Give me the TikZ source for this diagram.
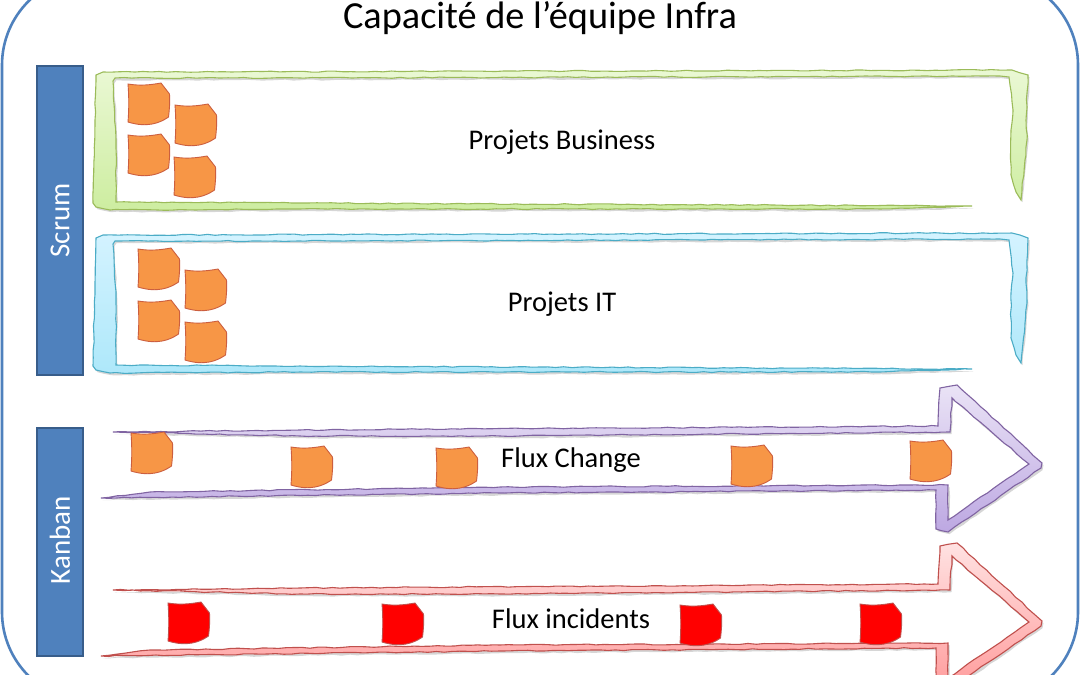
\documentclass[tikz,border=0pt]{standalone}
\usepackage{fontspec}
\setmainfont{Carlito}
\usetikzlibrary{decorations.pathmorphing}
\definecolor{bluemain}{HTML}{4F81BD}
\definecolor{blueedge}{HTML}{385D8A}
\definecolor{grn}{HTML}{9BBB59}
\definecolor{cyn}{HTML}{4BACC6}
\definecolor{pur}{HTML}{8064A2}
\definecolor{rd}{HTML}{C0504D}
\definecolor{grntop}{HTML}{EAF8D4}
\definecolor{grnbot}{HTML}{CDEDA0}
\definecolor{cyntop}{HTML}{D4F3FF}
\definecolor{cynbot}{HTML}{AEE8FA}
\definecolor{purtop}{HTML}{EAE3F6}
\definecolor{purbot}{HTML}{BDA8E2}
\definecolor{rdtop}{HTML}{FFE2E2}
\definecolor{rdbot}{HTML}{FF9C9C}
\definecolor{notefill}{HTML}{F79646}
\definecolor{noteedge}{HTML}{CC5F3F}
\tikzset{
  capacity/.style={draw=bluemain,line width=2.6pt,rounded corners=90pt},
  sidebar/.style={draw=blueedge,line width=2.2pt,fill=bluemain},
  sidetext/.style={text=white,rotate=90,font=\fontsize{29}{34}\selectfont},
  lbl/.style={font=\fontsize{28.5}{34}\selectfont,text=black},
  titlelbl/.style={font=\fontsize{38.3}{44}\selectfont,text=black},
  rough/.style={decorate,decoration={random steps,segment length=8pt,amplitude=.55pt}},
  greenframe/.style={rough,draw=grn,line width=1.1pt,top color=grntop,bottom color=grnbot},
  blueframe/.style={rough,draw=cyn,line width=1.1pt,top color=cyntop,bottom color=cynbot},
  purplearrow/.style={rough,draw=pur,line width=1.1pt,top color=purtop,bottom color=purbot},
  redarrow/.style={rough,draw=rd,line width=1.1pt,top color=rdtop,bottom color=rdbot},
  shadowpath/.style={rough,fill=black,opacity=.16,draw=none},
  orangenote/.style={draw=noteedge,line width=.9pt,fill=notefill},
  rednote/.style={draw=rd,line width=.9pt,fill=red},
  pics/note/.style={code={
    \draw[#1] (0,0) .. controls (12,2) and (22,1) .. (33,-1) -- (41.5,10)
      .. controls (42,18) and (41.5,25) .. (40.5,33)
      .. controls (32,39) and (19,44) .. (0,38)
      .. controls (1,26) and (1,12) .. (0,0) -- cycle;}}
}
\newcommand{\framepath}{(972,206) -- (880,209) -- (300,209) -- (110,210) -- (96,207) -- (93,203) -- (95,120) -- (96,75) -- (103,72) -- (1012,70) -- (1028,75) -- (1026,120) -- (1027,140) -- (1025,160) -- (1021,200) -- (1016,192) -- (1011,175) -- (1011,130) -- (1013,110) -- (1010,85) -- (1009,77) -- (1000,76) -- (300,78) -- (115,78) -- (113,81) -- (116,140) -- (116,202) -- (300,203) -- cycle}
\newcommand{\arrowpath}{(113,432) -- (300,430) -- (938,426) -- (940,388) -- (957,385) -- (1042,463) -- (1041,468) -- (948,532) -- (936,529) -- (936,490) -- (500,493) -- (101,498) -- (150,492) -- (500,487) -- (948,485) -- (948,520) -- (1029,464) -- (952,398) -- (950,432) -- (500,436) -- (300,436) -- cycle}
\begin{document}
\begin{tikzpicture}[x=1pt,y=-1pt]
\useasboundingbox (0,0) rectangle (1080,675);
\clip (0,0) rectangle (1080,675);
\pgfmathsetseed{7}
\fill[white] (0,0) rectangle (1080,675);
% outer capacity outline
\draw[capacity] (2,-25) rectangle (1078,702);
\node[titlelbl] (title) at (540,18) {Capacité de l’équipe Infra};
% side bars
\node[sidebar,minimum width=46pt,minimum height=309pt,inner sep=0pt] (scrumbar) at (60,220.5) {};
\node[sidetext] (scrum) at (60,220.5) {Scrum};
\node[sidebar,minimum width=46pt,minimum height=228pt,inner sep=0pt] (kanbanbar) at (60,542) {};
\node[sidetext] (kanban) at (60,540) {Kanban};
% frames
\path[shadowpath,shift={(1.5,2.2)}] \framepath;
\path[greenframe] \framepath;
\begin{scope}[shift={(0,163)}]
\path[shadowpath,shift={(1.5,2.2)}] \framepath;
\path[blueframe] \framepath;
\end{scope}
% arrows
\path[shadowpath,shift={(1.5,2.2)}] \arrowpath;
\path[purplearrow] \arrowpath;
\begin{scope}[shift={(0,158)}]
\path[shadowpath,shift={(1.5,2.2)}] \arrowpath;
\path[redarrow] \arrowpath;
\end{scope}
% labels
\node[lbl] (pb) at (562,142) {Projets Business};
\node[lbl] (pi) at (562,304) {Projets IT};
\node[lbl] (fc) at (571,460) {Flux Change};
\node[lbl] (fi) at (571,619) {Flux incidents};
% notes
\foreach \px/\py in {128/84,175/105,128/135,174/157,138/249,185/270,138/301,185/322,131/433,291/447,436/448,731/446,910/441}
  \pic at (\px,\py) {note=orangenote};
\foreach \px/\py in {168/603,382/604,680/605,860/604}
  \pic at (\px,\py) {note=rednote};
\end{tikzpicture}
\end{document}
